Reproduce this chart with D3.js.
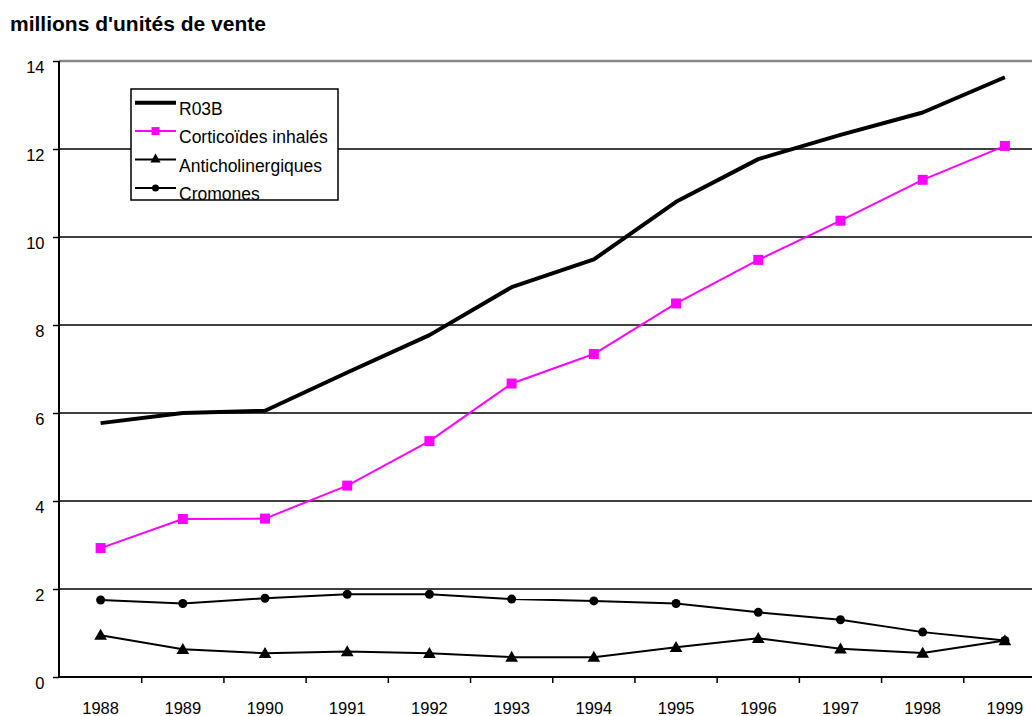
<html>
<head>
<meta charset="utf-8">
<script src="https://d3js.org/d3.v7.min.js"></script>
<style>
	body { margin: 0; background: white; }
	svg { display: block; }
	svg text { font-family: "Liberation Sans", Arial, sans-serif; }
</style>
</head>
<body onload="init()">
<svg width="1032" height="716"></svg>

<script>
	// data (millions of units)
	var years = ["1988", "1989", "1990", "1991", "1992", "1993", "1994", "1995", "1996", "1997", "1998", "1999"];
	var r03b = [5.77, 6.0, 6.05, 6.92, 7.77, 8.86, 9.49, 10.8, 11.77, 12.32, 12.83, 13.63];
	var corticoides = [2.93, 3.59, 3.6, 4.35, 5.36, 6.67, 7.34, 8.49, 9.48, 10.37, 11.3, 12.07];
	var anticholinergiques = [0.95, 0.63, 0.54, 0.58, 0.54, 0.45, 0.45, 0.675, 0.88, 0.64, 0.545, 0.83];
	var cromones = [1.75, 1.67, 1.79, 1.88, 1.88, 1.77, 1.73, 1.67, 1.47, 1.30, 1.02, 0.83];
	var y_ticks = [0, 2, 4, 6, 8, 10, 12, 14];
	var series_names = ["R03B", "Corticoïdes inhalés", "Anticholinergiques", "Cromones"];

	var svg, xscale, yscale;

	function draw_axes(){
		xscale = d3.scaleBand().domain(years).range([59.5, 1046]);
		yscale = d3.scaleLinear().domain([0, 14]).range([677, 61]);

		// horizontal grid lines, the top one is the grey plot border
		svg.append("g").selectAll("line").data(y_ticks.filter(function(d){ return d > 0; })).enter().append("line")
			.attr("x1", 59).attr("x2", 1032)
			.attr("y1", function(d){ return yscale(d); }).attr("y2", function(d){ return yscale(d); })
			.style("stroke", function(d){ return d == 14 ? "#888" : "black"; })
			.style("stroke-width", function(d){ return d == 14 ? 2.5 : 1.5; });

		var y_axis = d3.axisLeft(yscale).tickValues(y_ticks).tickSize(6).tickPadding(8.5);
		var gy = svg.append("g").attr("transform", "translate(59,0)").call(y_axis);
		gy.select(".domain").remove();
		gy.selectAll("line").style("stroke-width", 1.5);
		gy.selectAll("text").attr("dy", 11).style("font-size", "16.5px").style("fill", "black");
		gy.append("line").attr("x1", 0).attr("x2", 0).attr("y1", yscale(14)).attr("y2", yscale(0))
			.style("stroke", "black").style("stroke-width", 2);

		var bw = xscale.bandwidth();
		var x_axis = d3.axisBottom(xscale).tickSize(6).tickSizeOuter(0);
		var gx = svg.append("g").attr("transform", "translate(0," + yscale(0) + ")").call(x_axis);
		gx.select(".domain").remove();
		// ticks go between the categories
		gx.selectAll(".tick line").attr("x1", bw / 2).attr("x2", bw / 2).style("stroke-width", 1.5);
		gx.selectAll("text").attr("y", 36.5).attr("dy", 0).style("font-size", "16.5px").style("fill", "black");
		gx.append("line").attr("x1", 59).attr("x2", 1032).attr("y1", 0).attr("y2", 0)
			.style("stroke", "black").style("stroke-width", 2);
	}

	function xc(i){ return xscale(years[i]) + xscale.bandwidth() / 2; }

	function draw_series(values, color, width){
		var line = d3.line().x(function(d, i){ return xc(i); }).y(function(d){ return yscale(d); });
		svg.append("path").datum(values).attr("d", line)
			.style("fill", "none").style("stroke", color).style("stroke-width", width)
			.style("stroke-linejoin", "round");
		return svg.append("g");
	}

	function draw_lines(){
		draw_series(r03b, "black", 4);

		var g = draw_series(corticoides, "#FF00FF", 2);
		g.selectAll("rect").data(corticoides).enter().append("rect")
			.attr("x", function(d, i){ return xc(i) - 5; }).attr("y", function(d){ return yscale(d) - 5; })
			.attr("width", 10).attr("height", 10).style("fill", "#FF00FF");

		g = draw_series(cromones, "black", 2);
		g.selectAll("circle").data(cromones).enter().append("circle")
			.attr("cx", function(d, i){ return xc(i); }).attr("cy", function(d){ return yscale(d); })
			.attr("r", 4.5).style("fill", "black");

		var tri = d3.symbol().type(d3.symbolTriangle).size(70);
		g = draw_series(anticholinergiques, "black", 2);
		g.selectAll("path").data(anticholinergiques).enter().append("path").attr("d", tri)
			.attr("transform", function(d, i){ return "translate(" + xc(i) + "," + (yscale(d) + 1) + ")"; })
			.style("fill", "black");
	}

	function make_legend(){
		var lg = svg.append("g").attr("transform", "translate(131,89)");
		lg.append("rect").attr("width", 207).attr("height", 111)
			.style("fill", "white").style("stroke", "black").style("stroke-width", 1.5);

		var rows = lg.selectAll("g").data(series_names).enter().append("g")
			.attr("transform", function(d, i){ return "translate(0," + (13.7 + i * 28.4) + ")"; });
		rows.append("line").attr("x1", 4).attr("x2", 45).attr("y1", 0).attr("y2", 0)
			.style("stroke", function(d, i){ return i == 1 ? "#FF00FF" : "black"; })
			.style("stroke-width", function(d, i){ return i == 0 ? 4 : 2; });
		rows.append("text").attr("x", 48).attr("y", 12).style("font-size", "17.5px").text(function(d){ return d; });

		d3.select(rows.nodes()[1]).append("rect").attr("x", 20.5).attr("y", -4).attr("width", 8).attr("height", 8)
			.style("fill", "#FF00FF");
		d3.select(rows.nodes()[2]).append("path").attr("d", d3.symbol().type(d3.symbolTriangle).size(45))
			.attr("transform", "translate(24.5,0)");
		d3.select(rows.nodes()[3]).append("circle").attr("cx", 24.5).attr("cy", 0).attr("r", 3.5);
	}

	function init(){
		svg = d3.select("svg");
		svg.append("text").attr("x", 10).attr("y", 31).style("font-size", "21px").style("font-weight", "bold")
			.text("millions d'unités de vente");
		draw_axes();
		draw_lines();
		make_legend();
	}
</script>
</body>
</html>
